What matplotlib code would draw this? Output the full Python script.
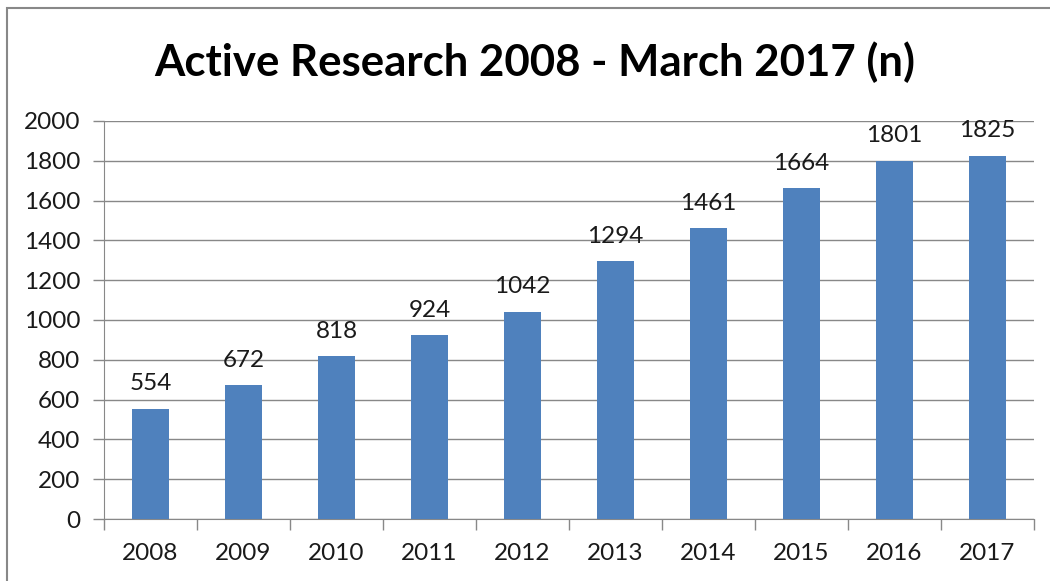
import matplotlib
matplotlib.use("Agg")
import matplotlib.pyplot as plt
from matplotlib.patches import Rectangle

years = ["2008", "2009", "2010", "2011", "2012", "2013", "2014", "2015", "2016", "2017"]
values = [554, 672, 818, 924, 1042, 1294, 1461, 1664, 1801, 1825]
yticks = [0, 200, 400, 600, 800, 1000, 1200, 1400, 1600, 1800, 2000]
title = "Active Research 2008 - March 2017 (n)"

plt.rcParams['font.family'] = ['Lato', 'DejaVu Sans']

fig = plt.figure(figsize=(10.5, 5.81), dpi=100)
ax = fig.add_axes([104/1050, 1-519/581, (1034-104)/1050, (519-121)/581])

x = list(range(len(years)))
bars = ax.bar(x, values, width=0.4, color="#4F81BD", zorder=3)
for xi, v in zip(x, values):
    ax.text(xi, v + 72, str(v), ha="center", va="bottom", fontsize=17.5, color="#1a1a1a")

ax.set_xlim(-0.5, len(years) - 0.5)
ax.set_ylim(0, 2000)
ax.set_yticks(yticks)
ax.set_yticklabels([str(t) for t in yticks], fontsize=17.5, color="#1a1a1a")
ax.set_xticks(x)
ax.set_xticklabels(years, fontsize=17.5, color="#1a1a1a")
ax.tick_params(axis="x", length=0, pad=17)
ax.tick_params(axis="y", length=8, color="#888888", width=1, pad=9)
# category boundary ticks on x
ax.set_xticks([i - 0.5 for i in range(len(years) + 1)], minor=True)
ax.tick_params(axis="x", which="minor", length=8, color="#888888", width=1)

ax.grid(axis="y", color="#888888", linewidth=1, zorder=0)
for s in ["top", "right"]:
    ax.spines[s].set_visible(False)
ax.spines["left"].set_color("#888888")
ax.spines["bottom"].set_color("#888888")

fig.text(535/1050, 1-62/581, title, ha="center", va="center", fontsize=31.5, fontweight="bold", color="black")

fig.patches.append(Rectangle((7/1050, -0.05), 1.0, 1.05-8/581, transform=fig.transFigure,
                             fill=False, edgecolor="#888888", linewidth=1.5))

fig.savefig("out.png", dpi=100)
